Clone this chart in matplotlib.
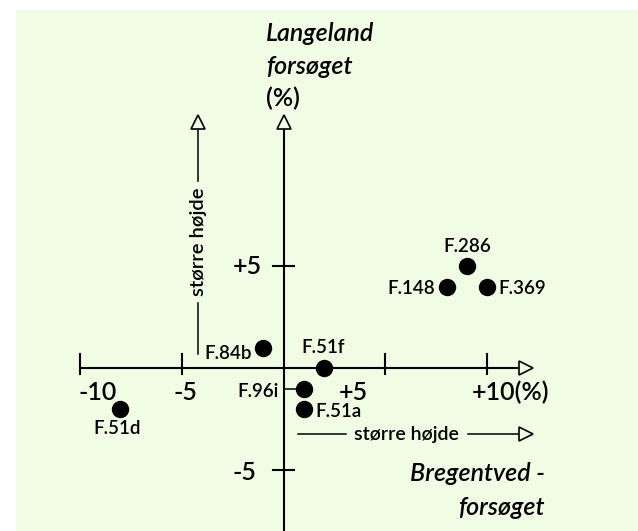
import matplotlib.pyplot as plt
from matplotlib.patches import Rectangle

# data (percent deviation in height, Bregentved vs Langeland)
names = ['F.286', 'F.148', 'F.369', 'F.84b', 'F.51f', 'F.96i', 'F.51a', 'F.51d']
bregentved = [9, 8, 10, -1, 2, 1, 1, -8]
langeland = [5, 4, 4, 1, 0, -1, -2, -2]
# label offsets (points) and alignment for each point
label_pos = {
    'F.286': (0, 14, 'center'),
    'F.148': (-8, -1, 'right'),
    'F.369': (8, -1, 'left'),
    'F.84b': (-8, -4, 'right'),
    'F.51f': (-1, 15, 'center'),
    'F.96i': (-18, -2, 'right'),
    'F.51a': (8, -2, 'left'),
    'F.51d': (-2, -14, 'center'),
}

x_ticks = [-10, -5, 5, 10]
y_ticks = [5, -5]

bg = '#F0FDE4'
font = 'Lato'
wt = 'semibold'

fig = plt.figure(figsize=(6.38, 5.31), dpi=100)
fig.patch.set_facecolor('white')

ax = fig.add_axes([0, 0, 1, 1])
ax.set_facecolor('none')
ax.add_patch(Rectangle((16 / 638, 0), 1 - 16 / 638, (531 - 9.5) / 531,
                       transform=fig.transFigure, facecolor=bg,
                       edgecolor='none', zorder=-10))
ax.set_xlim(-13.90, 17.38)
ax.set_ylim(-7.97, 18.06)
ax.axis('off')

lw = 1.5
# main axes
ax.plot([-10, 11.7], [0, 0], color='k', lw=lw)
ax.plot([0, 0], [-8.5, 11.9], color='k', lw=lw)
ax.plot(11.9, 0, marker='>', ms=10, mfc=bg, mec='k', mew=1.2)
ax.plot(0, 12.1, marker='^', ms=10, mfc=bg, mec='k', mew=1.2)

# ticks
for t in x_ticks:
    ax.plot([t, t], [-0.25, 0.7], color='k', lw=lw)
for t in y_ticks:
    ax.plot([-0.5, 0.5], [t, t], color='k', lw=lw)

# tick labels
tick_kw = dict(fontsize=18, family=font, weight=wt, va='center')
ax.text(-9.1, -1.2, '-10', ha='center', **tick_kw)
ax.text(-4.8, -1.2, '-5', ha='center', **tick_kw)
ax.text(3.4, -1.2, '+5', ha='center', **tick_kw)
ax.text(9.25, -1.2, '+10(%)', ha='left', **tick_kw)
ax.text(-1.05, 5.0, '+5', ha='right', **tick_kw)
ax.text(-1.35, -5.1, '-5', ha='right', **tick_kw)

# axis titles
title_kw = dict(fontsize=18, family=font, weight=wt, va='center')
ax.text(-0.85, 16.4, 'Langeland', style='italic', ha='left', **title_kw)
ax.text(-0.85, 14.8, 'forsøget', style='italic', ha='left', **title_kw)
ax.text(-0.85, 13.25, '(%)', ha='left', **title_kw)
ax.text(12.8, -5.15, 'Bregentved -', style='italic', ha='right', **title_kw)
ax.text(12.8, -6.8, 'forsøget', style='italic', ha='right', **title_kw)

# "større højde" direction arrows
ax.plot([-4.18, -4.18], [0.7, 3.2], color='k', lw=1.1)
ax.plot([-4.18, -4.18], [9.2, 11.9], color='k', lw=1.1)
ax.plot(-4.18, 12.1, marker='^', ms=10, mfc=bg, mec='k', mew=1.2)
ax.text(-4.18, 6.2, 'større højde', fontsize=14.5, family=font, weight=wt,
        rotation=90, ha='center', va='center')

ax.plot([0.7, 3.05], [-3.23, -3.23], color='k', lw=1.1)
ax.plot([9.05, 11.7], [-3.23, -3.23], color='k', lw=1.1)
ax.plot(11.9, -3.23, marker='>', ms=10, mfc=bg, mec='k', mew=1.2)
ax.text(6.05, -3.23, 'større højde', fontsize=14, family=font, weight=wt,
        ha='center', va='center')

# leader for F.96i
ax.plot([0, 1], [-1, -1], color='k', lw=1.1)

# points
ax.plot(bregentved, langeland, 'o', color='k', ms=11.5, zorder=5)
for n, x, y in zip(names, bregentved, langeland):
    dx, dy, ha = label_pos[n]
    ax.annotate(n, (x, y), xytext=(dx, dy), textcoords='offset points',
                ha=ha, va='center', fontsize=13.5, family=font, weight=wt)

fig.savefig('out.png', dpi=100)
